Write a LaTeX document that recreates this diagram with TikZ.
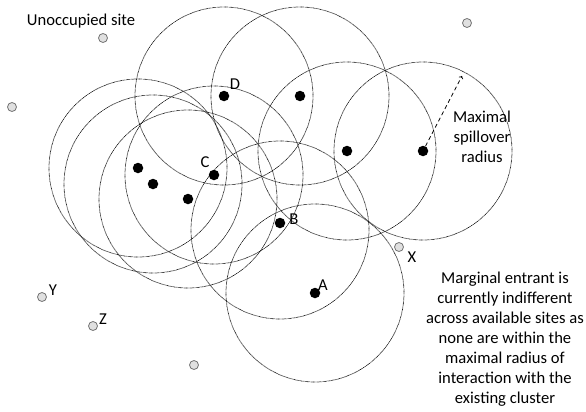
\documentclass[tikz,border=0pt]{standalone}
\usepackage{fontspec}
\setmainfont{Carlito}
\usetikzlibrary{backgrounds}

\tikzset{
  firm/.style={circle,fill=black,inner sep=0pt,minimum size=10.5pt},
  site/.style={circle,draw=black!55,fill=black!12,line width=0.8pt,inner sep=0pt,minimum size=9pt},
  reach/.style={draw=black,line width=0.7pt,dash pattern=on 0.6pt off 0.6pt},
  txt/.style={font=\fontsize{16.6pt}{20pt}\selectfont,inner sep=0pt,align=center}
}

\begin{document}
\begin{tikzpicture}[x=1pt,y=-1pt]

        \useasboundingbox (0,0) rectangle (586,412);

        \begin{scope}[every node/.style={firm}]
          \node (d)  at (224,96)  {};
          \node (e)  at (300,96)  {};
          \node (f)  at (347,151) {};
          \node (g)  at (423,151) {};
          \node (c)  at (214,175) {};
          \node (h)  at (138,168) {};
          \node (i)  at (153,184) {};
          \node (j)  at (188,199) {};
          \node (b)  at (280,223) {};
          \node (a)  at (315,293) {};
        \end{scope}

        \begin{scope}[every node/.style={site}]
          \node (s1) at (103,38)  {};
          \node (s2) at (12,107)  {};
          \node (s3) at (467,23)  {};
          \node (x)  at (399,247) {};
          \node (y)  at (42,297)  {};
          \node (z)  at (93,326)  {};
          \node (s4) at (194,365) {};
        \end{scope}

        \begin{scope}[on background layer,every path/.style={reach}]
          \draw (d) circle[radius=89pt];
          \draw (e) circle[radius=89pt];
          \draw (f) circle[radius=89pt];
          \draw (g) circle[radius=89pt];
          \draw (c) circle[radius=89pt];
          \draw (h) circle[radius=89pt];
          \draw (i) circle[radius=89pt];
          \draw (j) circle[radius=89pt];
          \draw ([yshift=-7pt]b) circle[radius=89pt];
          \draw (a) circle[radius=89pt];
        \end{scope}

        \begin{scope}[every node/.style={txt}]
          \node (ld) at (235,84)  {D};
          \node (lc) at (205,162) {C};
          \node (lb) at (294,219) {B};
          \node (la) at (323,285) {A};
          \node (lx) at (412,257) {X};
          \node (ly) at (53,290)  {Y};
          \node (lz) at (103,319) {Z};

          \node (unocc) at (81,21)   {Unoccupied site};
          \node (spill) at (482,137) {Maximal\\spillover\\radius};
          \node (note)  at (505,339) {Marginal entrant is\\currently indifferent\\across available sites as\\none are within the\\maximal radius of\\interaction with the\\existing cluster};
        \end{scope}

        \coordinate (tip) at (462,76);
        \draw[dash pattern=on 4pt off 3pt,->,line width=0.8pt] (g) -- (tip);

      \end{tikzpicture}
\end{document}
